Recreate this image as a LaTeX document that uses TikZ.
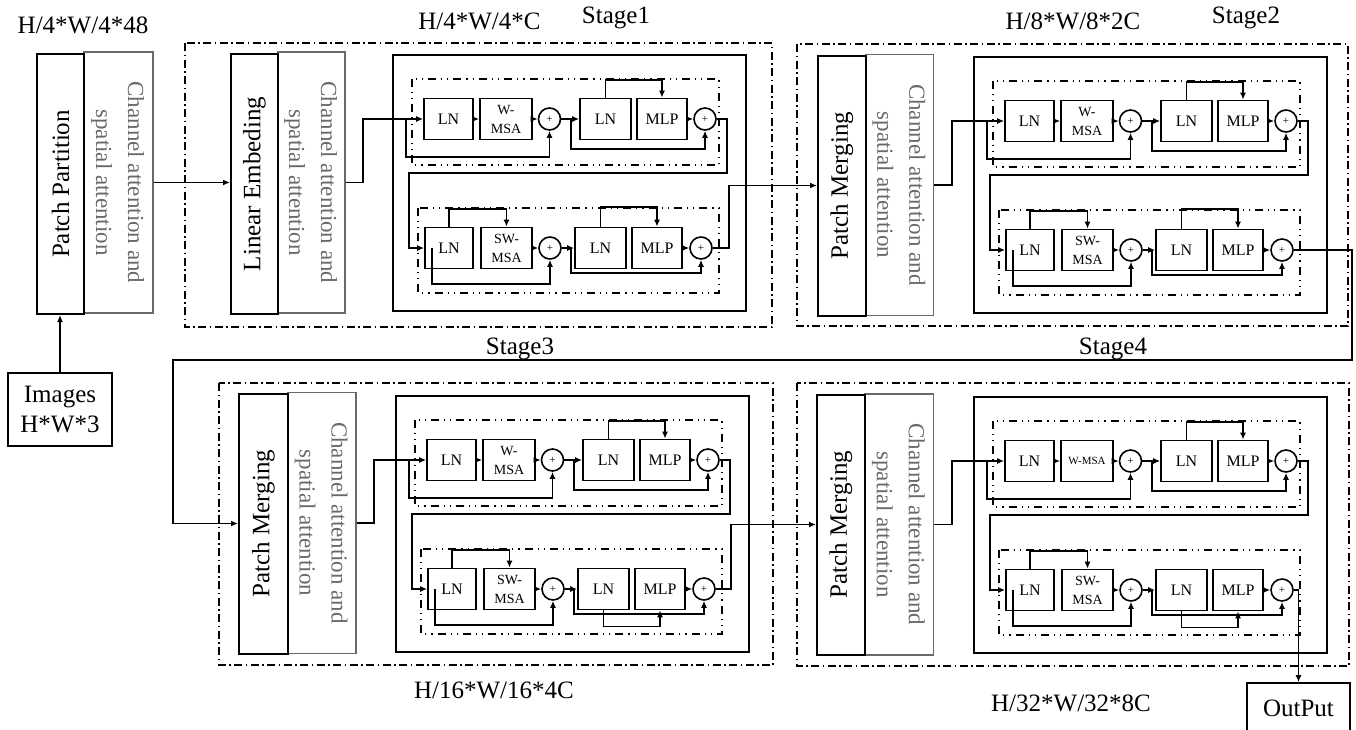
\documentclass[tikz,border=0pt]{standalone}
\usepackage{fontspec}
\setmainfont{Liberation Serif}
\usepackage{graphicx}
\usepackage{tikz}
\usetikzlibrary{arrows.meta}
\definecolor{chgray}{RGB}{105,105,105}
\newcommand{\fsz}[2]{\fontsize{#1}{#2}\selectfont}
\newcommand{\chantext}{\rotatebox{-90}{\begin{tabular}{@{}c@{}}Channel attention and\\spatial attention\end{tabular}}}

\begin{document}
\begin{tikzpicture}[x=1pt,y=-1pt,
  conn/.style={line width=1.7pt,-{Latex[length=7pt,width=6pt]}},
  mainbox/.style={draw,line width=2pt,minimum width=48pt,minimum height=260pt,inner sep=0pt,font=\fsz{25}{30}},
  chanbox/.style={draw=chgray,line width=1.5pt,minimum width=68pt,minimum height=261pt,inner sep=0pt,text=chgray,font=\fsz{23}{32}},
  stagebox/.style={line width=1.7pt,dash pattern=on 8pt off 3.5pt on 1.5pt off 3.5pt},
  rowbox/.style={line width=1.8pt,dash pattern=on 8pt off 5pt on 1.2pt off 5pt on 1.2pt off 5pt},
  solidbox/.style={line width=1.9pt},
  blk/.style={draw,line width=1.7pt,minimum height=41pt,inner sep=0pt,align=center,font=\fsz{16}{17}},
  plus/.style={draw,circle,line width=1.6pt,minimum size=22pt,inner sep=0pt,font=\fsz{11}{11}},
  lbl/.style={font=\fsz{25}{30}},
  pics/swinblock/.style n args={4}{code={
    \draw[solidbox] (0,0) rectangle (353,256);
    \draw[rowbox] (19,24) rectangle (326,110);
    \draw[rowbox] (25,153) rectangle (326,238);
    %top row
    \node[blk,minimum width=49pt] (-ln1) at (55.5,64) {LN};
    \node[blk,minimum width=52pt,font=\fsz{#2}{19}] (-msa1) at (113,64) {#1};
    \node[plus] (-p1) at (156.5,64) {+};
    \node[blk,minimum width=51pt] (-ln2) at (212.5,64) {LN};
    \node[blk,minimum width=50pt] (-mlp1) at (269,64) {MLP};
    \node[plus] (-p2) at (312,64) {+};
    \coordinate (-r1) at (13,64);
    \coordinate (-r2) at (178,64);
    \draw[conn] (-ln1) -- (-msa1);
    \draw[conn] (-msa1) -- (-p1);
    \draw[conn] (-p1) -- (-ln2);
    \draw[conn] (-mlp1) -- (-p2);
    \draw[conn] (-r1) -- ++(0,38) -| (-p1);
    \draw[conn] (-r2) -- ++(0,30) -| (-p2);
    \draw[conn] (-ln2.north) -- ++(0,-18) -| (-mlp1);
    %bottom row
    \node[blk,minimum width=48pt] (-ln3) at (56,193) {LN};
    \node[blk,minimum width=51pt,font=\fsz{14}{19}] (-msa2) at (113.5,193) {SW-\\MSA};
    \node[plus] (-p3) at (157,193) {+};
    \node[blk,minimum width=51pt] (-ln4) at (207.5,193) {LN};
    \node[blk,minimum width=50pt] (-mlp2) at (264,193) {MLP};
    \node[plus] (-p4) at (308,193) {+};
    \coordinate (-r3) at (39,193);
    \coordinate (-r4) at (178,193);
    \draw[conn] (-p2) -- ++(22,0) |- (16,118) |- (-ln3);
    \draw[conn] (-ln3.north) -- ++(0,-18) -| (-msa2);
    \draw[conn] (-msa2) -- (-p3);
    \draw[conn] (-p3) -- (-ln4);
    \draw[conn] (-mlp2) -- (-p4);
    \draw[conn] (-r3) -- ++(0,36) -| (-p3);
    \draw[conn] (-r4) -- ++(0,25) -| (-p4);
    \draw[conn] (-ln4.#3) -- ++(0,#4) -| (-mlp2);
  }}]
  \useasboundingbox (0,0) rectangle (1356,729);
  \clip (0,0) rectangle (1356,729);

  %input
  \node[lbl] (dim0) at (83,25) {H/4*W/4*48};
  \node[chanbox,minimum width=69pt] (ppc) at (118.5,182.5) {\chantext};
  \node[mainbox,minimum width=47pt] (pp) at (60.5,184) {\rotatebox{90}{Patch Partition}};
  \node[draw,line width=1.7pt,minimum width=104pt,minimum height=73pt,align=center,lbl] (img) at (60,409.5) {Images\\H*W*3};
  \draw[conn] (img.north) -- (img.north |- pp.south);

  %stage1
  \node[lbl] (dim1) at (479.5,21) {H/4*W/4*C};
  \node[lbl] (st1) at (616,18) {Stage1};
  \draw[stagebox] (185,43) rectangle (772,327);
  \node[chanbox,minimum width=67pt] (s1c) at (311.5,182.5) {\chantext};
  \node[mainbox,minimum width=47pt] (le) at (254.5,184) {\rotatebox{90}{Linear Embeding}};
  \pic (s1) at (393,55) {swinblock={W-\\MSA}{14}{north}{-20}};
  \draw[conn] (ppc.east) -- (ppc.east -| le.west);
  \draw[conn] (s1c.east) -- ++(17,0) |- (s1-ln1);

  %stage2
  \node[lbl] (dim2) at (1073,21) {H/8*W/8*2C};
  \node[lbl] (st2) at (1246,18) {Stage2};
  \draw[stagebox] (797,44) rectangle (1348,326);
  \node[chanbox,minimum width=67.5pt] (s2c) at (899.75,185) {\chantext};
  \node[mainbox] (s2pm) at (842,185.5) {\rotatebox{90}{Patch Merging}};
  \pic (s2) at (974,57) {swinblock={W-\\MSA}{14}{north}{-20}};
  \draw[conn] (s1-p4) -- ++(28,0) |- (s2pm);
  \draw[conn] (s2c.east) -- ++(17.5,0) |- (s2-ln1);

  %stage3
  \node[lbl] (st3) at (520,349) {Stage3};
  \node[lbl] (dim3) at (494,690) {H/16*W/16*4C};
  \draw[stagebox] (219,383) rectangle (773,665);
  \node[chanbox] (s3c) at (322,523) {\chantext};
  \node[mainbox,minimum width=49pt] (s3pm) at (263.5,523.5) {\rotatebox{90}{Patch Merging}};
  \pic (s3) at (396,396) {swinblock={W-\\MSA}{14}{south}{16}};
  \coordinate (turn) at (173,360);
  \draw[conn] (s2-p4) -- ++(70,0) |- (turn) |- (s3pm);
  \draw[conn] (s3c.east) -- ++(17,0) |- (s3-ln1);

  %stage4
  \node[lbl] (st4) at (1113,349) {Stage4};
  \node[lbl] (dim4) at (1071,703) {H/32*W/32*8C};
  \draw[stagebox] (797,383) rectangle (1349,666);
  \node[chanbox,minimum width=68.5pt] (s4c) at (899.25,524.5) {\chantext};
  \node[mainbox] (s4pm) at (841,524.5) {\rotatebox{90}{Patch Merging}};
  \pic (s4) at (974,397) {swinblock={W-MSA}{11}{south}{16}};
  \draw[conn] (s3-p4) -- ++(27,0) |- (s4pm);
  \draw[conn] (s4c.east) -- ++(17.5,0) |- (s4-ln1);

  %output
  \node[draw,line width=1.7pt,minimum width=103pt,minimum height=50pt,lbl] (out) at (1298.5,708) {OutPut};
  \draw[conn] (s4-p4) -| (out);
\end{tikzpicture}
\end{document}
